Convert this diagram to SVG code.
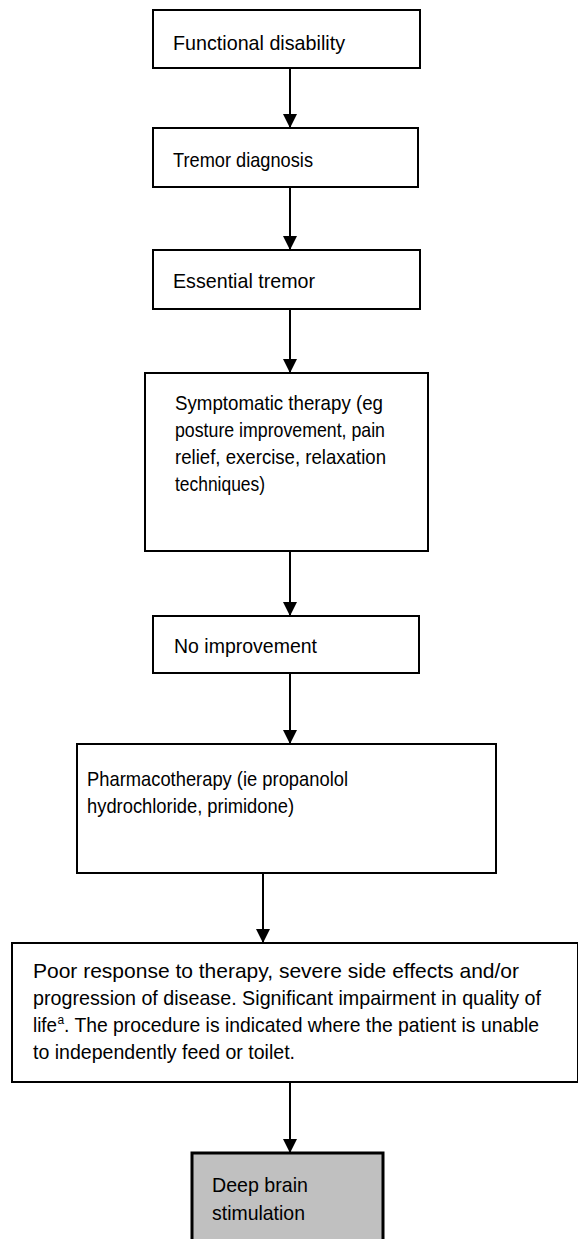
<svg xmlns="http://www.w3.org/2000/svg" width="578" height="1239" viewBox="0 0 578 1239">
<defs>
<marker id="arr" markerWidth="16" markerHeight="14" refX="14" refY="7" orient="auto" markerUnits="userSpaceOnUse">
<path d="M0,0 L14,7 L0,14 Z" fill="#000"/>
</marker>
<style>
.box{fill:#fff;stroke:#000;stroke-width:2}
.hl{fill:#c0c0c0;stroke:#000;stroke-width:3}
text{font-family:"Liberation Sans",Arial,sans-serif;fill:#000;font-size:21px}
.c{stroke:#000;stroke-width:2;fill:none;marker-end:url(#arr)}
</style>
</defs>
<rect width="578" height="1239" fill="#fff"/>
<g id="connectors">
<line class="c" x1="290" y1="68" x2="290" y2="128"/>
<line class="c" x1="290" y1="187" x2="290" y2="250"/>
<line class="c" x1="290" y1="309" x2="290" y2="373"/>
<line class="c" x1="290" y1="551" x2="290" y2="616"/>
<line class="c" x1="290" y1="673" x2="290" y2="744"/>
<line class="c" x1="263" y1="873" x2="263" y2="943"/>
<line class="c" x1="290" y1="1082" x2="290" y2="1153"/>
</g>
<g id="n1">
<rect class="box" x="153" y="10" width="267" height="58"/>
<text x="173" y="50" textLength="172" lengthAdjust="spacingAndGlyphs">Functional disability</text>
</g>
<g id="n2">
<rect class="box" x="153" y="128" width="265" height="59"/>
<text x="173" y="167" textLength="140" lengthAdjust="spacingAndGlyphs">Tremor diagnosis</text>
</g>
<g id="n3">
<rect class="box" x="153" y="250" width="267" height="59"/>
<text x="173" y="288" textLength="142" lengthAdjust="spacingAndGlyphs">Essential tremor</text>
</g>
<g id="n4">
<rect class="box" x="145" y="373" width="283" height="178"/>
<text x="175" y="410" textLength="208" lengthAdjust="spacingAndGlyphs">Symptomatic therapy (eg</text>
<text x="175" y="437" textLength="210" lengthAdjust="spacingAndGlyphs">posture improvement, pain</text>
<text x="175" y="464" textLength="211" lengthAdjust="spacingAndGlyphs">relief, exercise, relaxation</text>
<text x="175" y="491" textLength="90" lengthAdjust="spacingAndGlyphs">techniques)</text>
</g>
<g id="n5">
<rect class="box" x="153" y="616" width="266" height="57"/>
<text x="174" y="653" textLength="143" lengthAdjust="spacingAndGlyphs">No improvement</text>
</g>
<g id="n6">
<rect class="box" x="77" y="744" width="419" height="129"/>
<text x="87" y="786" textLength="261" lengthAdjust="spacingAndGlyphs">Pharmacotherapy (ie propanolol</text>
<text x="87" y="813" textLength="207" lengthAdjust="spacingAndGlyphs">hydrochloride, primidone)</text>
</g>
<g id="n7">
<rect class="box" x="12" y="943" width="566" height="139"/>
<text x="33" y="978" textLength="486" lengthAdjust="spacingAndGlyphs">Poor response to therapy, severe side effects and/or</text>
<text x="33" y="1005" textLength="508" lengthAdjust="spacingAndGlyphs">progression of disease. Significant impairment in quality of</text>
<text x="33" y="1032" textLength="24" lengthAdjust="spacingAndGlyphs">life</text>
<text x="57.5" y="1024" style="font-size:12px">a</text>
<text x="64" y="1032" textLength="475" lengthAdjust="spacingAndGlyphs">. The procedure is indicated where the patient is unable</text>
<text x="33" y="1059" textLength="262" lengthAdjust="spacingAndGlyphs">to independently feed or toilet.</text>
</g>
<g id="n8">
<rect class="hl" x="192" y="1153" width="191" height="100"/>
<text x="212" y="1192" textLength="96" lengthAdjust="spacingAndGlyphs">Deep brain</text>
<text x="212" y="1220" textLength="93" lengthAdjust="spacingAndGlyphs">stimulation</text>
</g>
</svg>
